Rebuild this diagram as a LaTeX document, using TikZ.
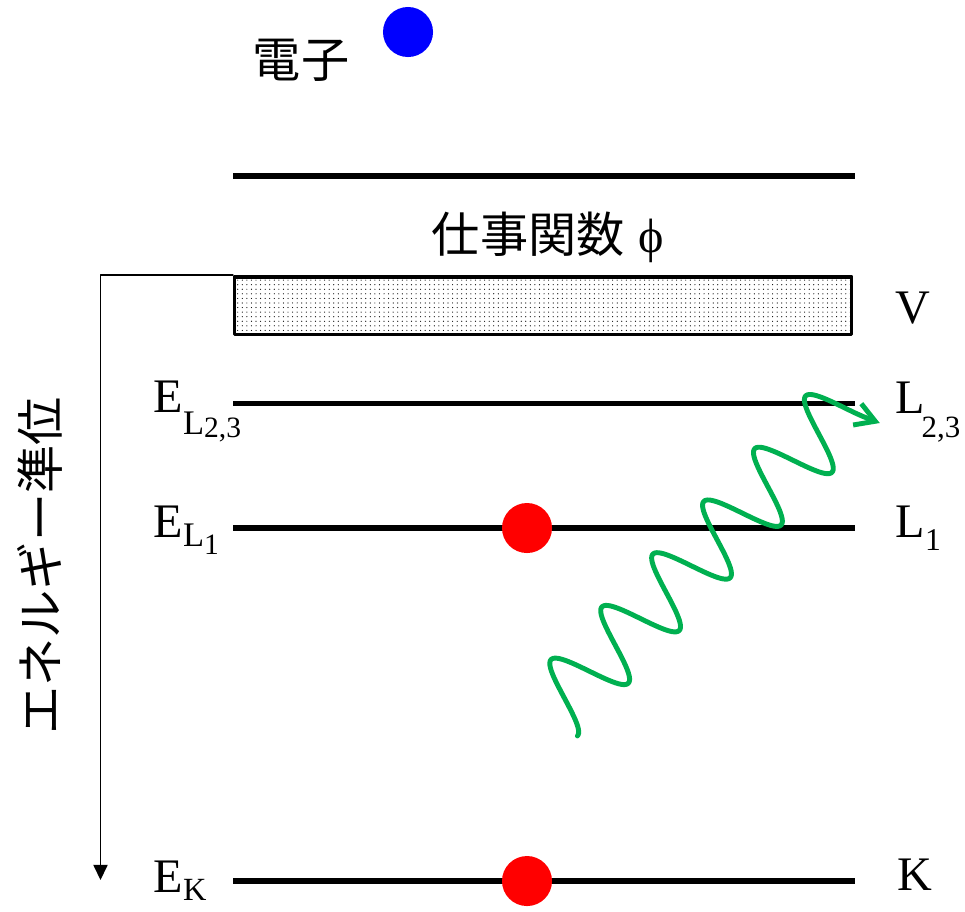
\documentclass[tikz,border=0pt]{standalone}
\usepackage{fontspec}
\setmainfont{Liberation Serif}
\newfontfamily\jp{Noto Sans CJK JP}
\usetikzlibrary{arrows.meta,patterns.meta}
\definecolor{verdefot}{RGB}{0,176,80}
\newcommand{\pedice}[3]{\raisebox{-#1}{\fontsize{#2}{#2}\selectfont #3}}

\begin{document}
\begin{tikzpicture}[x=0.01cm,y=-0.01cm,line join=round,line cap=round,
    font=\fontsize{13.7pt}{16pt}\selectfont,
    livello/.style={line width=1.5pt,line cap=butt},
    banda/.style={draw,line width=1pt,pattern={Dots[distance=1.3pt,radius=0.17pt]},
      minimum width=6.165cm,minimum height=0.575cm,inner sep=0pt},
    pallino/.style={circle,inner sep=0pt,minimum size=0.5cm},
    asse/.style={line width=0.5pt,-{Triangle[length=4.3pt,width=4pt]}},
    fotone/.style={verdefot,line width=1.4pt,-{Straight Barb[length=5.5pt,width=6.5pt]}},
    etichetta/.style={anchor=base west,inner sep=0pt}]

  \useasboundingbox (0,0) rectangle (965,911);

  % ---- livelli e banda di valenza ----------------------------------------
  \draw[livello] (233,176) -- (855,176);
  \node[banda] (vb) at (543,305.5) {};
  \draw[livello] (233,403.5) -- (855,403.5);
  \draw[livello] (233,528) -- (855,528);
  \draw[livello] (233,881) -- (855,881);

  % ---- elettroni ----------------------------------------------------------
  \node[pallino,fill=blue] (e0) at (408,32) {};
  \node[pallino,fill=red] (e1) at (527,528) {};
  \node[pallino,fill=red] (e2) at (527,881) {};

  % ---- testi --------------------------------------------------------------
  \node (tElettrone) at (301,60) {\jp 電子};
  \node (tLavoro) at (548,237) {{\jp 仕事関数}\hspace{4pt}ϕ};
  \node[rotate=90] (tAsse) at (40,566) {\jp エネルギー準位};

  \node[etichetta] (eL23) at (153,412) {E\pedice{6.3pt}{9.8pt}{L\pedice{1pt}{8.4pt}{2,3}}};
  \node[etichetta] (eL1) at (153,537) {E\pedice{2.8pt}{9.8pt}{L\pedice{2.3pt}{8.4pt}{1}}};
  \node[etichetta] (eK) at (153,892) {E\pedice{2.3pt}{9.2pt}{K}};

  \node[etichetta] (rV) at (895,323) {V};
  \node[etichetta] (rL23) at (895,413) {L\kern-1pt\pedice{7pt}{8.8pt}{2,3}};
  \node[etichetta] (rL1) at (895,537) {L\pedice{3.7pt}{9pt}{1}};
  \node[etichetta] (rK) at (897,890) {K};

  % ---- asse dell'energia --------------------------------------------------
  \coordinate (fondoAsse) at (100.5,880);
  \draw[asse] (vb.north west) -| (fondoAsse);

  % ---- fotone -------------------------------------------------------------
  \begin{scope}[shift={(590.5,670.5)},rotate=46]
    \draw[fotone] plot[domain=0:2110,samples=300,variable=\a]
      ({-56.15+0.20361*\a},{36*cos(\a)}) -- ++(5.5,13);
  \end{scope}

\end{tikzpicture}
\end{document}
